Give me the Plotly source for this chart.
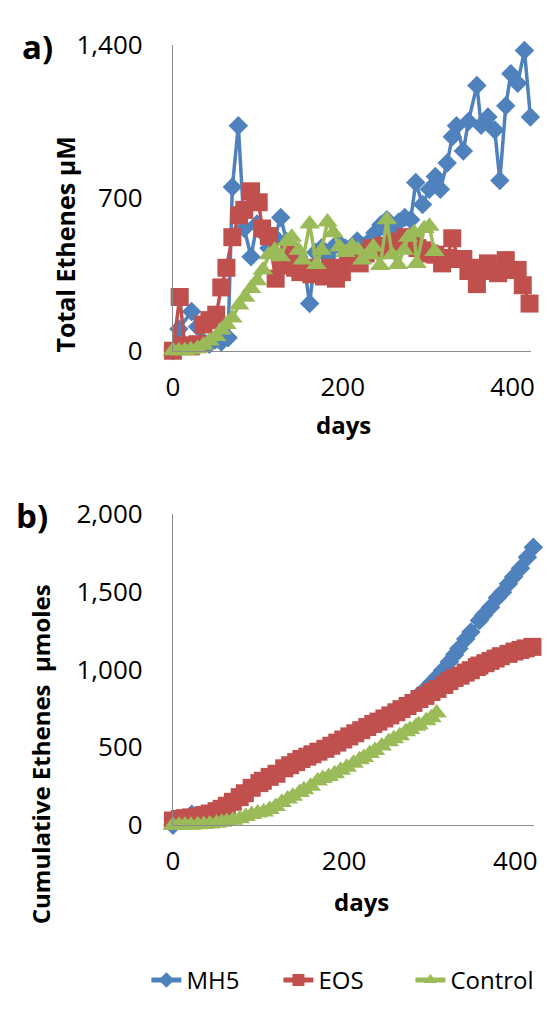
import plotly.graph_objects as go

# ---------------- Panel a) Total Ethenes (uM) ----------------
mh5_days = [0, 7, 22, 29, 36, 43, 50, 57, 65, 70, 77, 84, 92, 99, 106, 113, 120, 127, 134, 141,
            148, 155, 161, 168, 175, 182, 189, 196, 203, 210, 217, 224, 231, 238, 245, 252, 259,
            266, 273, 280, 286, 294, 302, 309, 315, 323, 329, 334, 342, 348, 358, 363, 371, 379,
            385, 392, 398, 406, 414, 421]
mh5_total = [0, 100, 180, 110, 40, 30, 50, 40, 60, 750, 1030, 560, 430, 580, 540, 470, 520, 610,
             500, 470, 430, 380, 216, 450, 470, 430, 474, 490, 470, 460, 503, 480, 500, 540, 577,
             600, 560, 590, 610, 600, 770, 670, 739, 798, 740, 860, 980, 1030, 915, 1050, 1215,
             1033, 1070, 1011, 780, 1122, 1269, 1225, 1375, 1070]

eos_days = [0, 8, 14, 21, 29, 36, 43, 51, 57, 63, 70, 78, 84, 92, 101, 105, 113, 121, 130, 137,
            144, 150, 157, 163, 170, 178, 185, 192, 199, 206, 213, 220, 227, 234, 240, 247, 254,
            261, 267, 274, 281, 288, 295, 302, 309, 317, 323, 329, 336, 342, 348, 355, 358, 365,
            371, 377, 383, 392, 399, 406, 412, 420]
eos_total = [0, 246, 25, 20, 30, 120, 140, 165, 290, 380, 520, 620, 645, 730, 680, 560, 525, 330,
             390, 440, 380, 360, 380, 350, 360, 340, 380, 330, 360, 420, 440, 400, 445, 470, 460,
             480, 475, 500, 490, 520, 500, 470, 460, 445, 440, 400, 425, 515, 420, 420, 365, 380,
             305, 370, 400, 365, 355, 415, 370, 370, 300, 216]

ctl_days = [0, 7, 14, 21, 29, 36, 43, 51, 57, 63, 70, 78, 85, 92, 99, 106, 113, 120, 127, 134,
            140, 148, 153, 161, 169, 175, 182, 189, 196, 203, 211, 218, 223, 230, 236, 244, 252,
            258, 265, 272, 277, 284, 287, 296, 302, 308]
ctl_total = [0, 0, 0, 5, 10, 25, 45, 65, 95, 120, 150, 210, 245, 285, 320, 370, 440, 460, 430,
             500, 520, 460, 415, 580, 395, 460, 590, 540, 475, 450, 480, 460, 415, 440, 475, 390,
             600, 440, 395, 460, 520, 540, 400, 560, 570, 455]

# ---------------- Panel b) Cumulative Ethenes (umoles) ----------------
mh5_cum = [0, 38, 70, 53, 63, 73, 85, 100, 128, 150, 178, 205, 238, 262, 285, 305, 328, 352, 375,
           395, 415, 433, 450, 466, 480, 500, 520, 540, 560, 578, 598, 620, 638, 658, 678, 698,
           718, 742, 765, 795, 830, 870, 915, 955, 995, 1050, 1095, 1135, 1195, 1240, 1315, 1350,
           1400, 1460, 1495, 1550, 1595, 1650, 1720, 1785]
eos_cum = [30, 40, 45, 50, 55, 65, 75, 90, 105, 125, 150, 180, 205, 240, 270, 285, 310, 330, 365,
           385, 405, 425, 440, 455, 472, 490, 510, 530, 550, 570, 590, 610, 630, 650, 665, 685,
           705, 725, 745, 765, 785, 810, 830, 855, 875, 900, 925, 945, 960, 980, 995, 1015, 1025,
           1040, 1055, 1070, 1085, 1100, 1115, 1125, 1135, 1145]
ctl_cum = [0, 0, 0, 0, 2, 4, 7, 12, 18, 24, 32, 42, 55, 68, 78, 85, 100, 120, 145, 168, 185, 210,
           228, 250, 283, 300, 312, 330, 352, 372, 398, 420, 435, 460, 480, 508, 535, 555, 575,
           600, 615, 635, 645, 670, 690, 720]

names = ["MH5", "EOS", "Control"]
colors = ["#4F81BD", "#C0504D", "#9BBB59"]
symbols = ["diamond", "square", "triangle-up"]
msizes = [15, 18, 18]

W, H = 548, 1009
FONT = "Open Sans"


def px_x(p):
    return p / W


def px_y(p):
    return 1 - p / H


fig = go.Figure()

top = [(mh5_days, mh5_total), (eos_days, eos_total), (ctl_days, ctl_total)]
bot = [(mh5_days, mh5_cum), (eos_days, eos_cum), (ctl_days, ctl_cum)]

for i, (d, v) in enumerate(top):
    fig.add_trace(go.Scatter(
        x=d, y=v, mode="lines+markers", name=names[i], legendgroup=names[i],
        line=dict(color=colors[i], width=3.5),
        marker=dict(symbol=symbols[i], size=msizes[i], color=colors[i]),
        cliponaxis=False, xaxis="x", yaxis="y", showlegend=True))

for i, (d, v) in enumerate(bot):
    fig.add_trace(go.Scatter(
        x=d, y=v, mode="lines+markers", name=names[i], legendgroup=names[i],
        line=dict(color=colors[i], width=3.5),
        marker=dict(symbol=symbols[i], size=msizes[i], color=colors[i]),
        cliponaxis=False, xaxis="x2", yaxis="y2", showlegend=False))

axis_common = dict(showgrid=False, zeroline=False, showline=True, linecolor="#8C8C8C",
                   linewidth=1, ticks="", tickfont=dict(family=FONT, size=26, color="#000"))

XR = [0, 422]
fig.update_layout(
    width=W, height=H,
    margin=dict(l=0, r=0, t=0, b=0),
    paper_bgcolor="white", plot_bgcolor="white",
    font=dict(family=FONT, color="#000"),
    xaxis=dict(domain=[px_x(169), px_x(534)], range=XR, anchor="y",
               tickvals=[0, 200, 400], ticklabelstandoff=13, **axis_common),
    yaxis=dict(domain=[px_y(344), px_y(27)], range=[0, 1400], anchor="x",
               tickvals=[0, 700, 1400], tickformat=",d", ticklabelstandoff=24, **axis_common),
    xaxis2=dict(domain=[px_x(169), px_x(537)], range=XR, anchor="y2",
                tickvals=[0, 200, 400], ticklabelstandoff=13, **axis_common),
    yaxis2=dict(domain=[px_y(836), px_y(513)], range=[0, 2000], anchor="x2",
                tickvals=[0, 500, 1000, 1500, 2000], tickformat=",d", ticklabelstandoff=24,
                **axis_common),
    legend=dict(orientation="h", x=px_x(142), y=px_y(997), xanchor="left", yanchor="middle",
                font=dict(family=FONT, size=24, color="#000"), itemsizing="constant",
                entrywidth=87, bgcolor="rgba(0,0,0,0)", traceorder="normal"),
    showlegend=True,
)

ann = [
    dict(text="<b>a)</b>", x=px_x(31), y=px_y(29), size=33, angle=0),
    dict(text="<b>b)</b>", x=px_x(25), y=px_y(515), size=33, angle=0),
    dict(text="<b>Total Ethenes µM</b>", x=px_x(59), y=px_y(234), size=25, angle=-90),
    dict(text="<b>Cumulative Ethenes  µmoles</b>", x=px_x(34), y=px_y(762), size=24, angle=-90),
    dict(text="<b>days</b>", x=px_x(343), y=px_y(420), size=24, angle=0),
    dict(text="<b>days</b>", x=px_x(361), y=px_y(915), size=24, angle=0),
]
for a in ann:
    fig.add_annotation(text=a["text"], x=a["x"], y=a["y"], xref="paper", yref="paper",
                       xanchor="center", yanchor="middle", showarrow=False, textangle=a["angle"],
                       font=dict(family=FONT, size=a["size"], color="#000"))

fig.write_html("out.html")
